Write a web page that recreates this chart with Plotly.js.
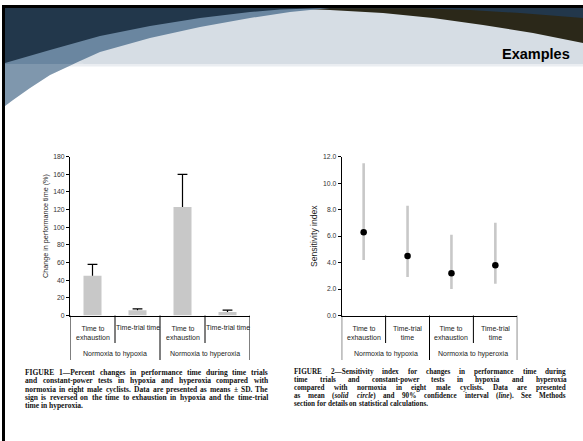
<!DOCTYPE html>
<html>
<head>
<meta charset="utf-8">
<script src="https://cdn.plot.ly/plotly-3.0.1.min.js"></script>
<style>html,body{margin:0;padding:0;background:#fff;}#chart{width:583px;height:441px;}</style>
</head>
<body>
<div id="chart"></div>
<script>
// ---------- data ----------
const categoryIndex = [0, 1, 2, 3];
const fig1Labels = ['Time to<br>exhaustion', 'Time-trial time', 'Time to<br>exhaustion', 'Time-trial time'];
const fig2Labels = ['Time to<br>exhaustion', 'Time-trial<br>time', 'Time to<br>exhaustion', 'Time-trial<br>time'];
const groupLabels = ['Normoxia to hypoxia', 'Normoxia to hyperoxia'];
const changeMean = [45, 6, 123, 4];          // % change in performance time
const changeSD = [13, 1.5, 37, 2];
const sensMean = [6.3, 4.5, 3.2, 3.8];       // sensitivity index
const sensLower = [4.2, 2.9, 2.0, 2.4];      // 90% CI
const sensUpper = [11.5, 8.3, 6.1, 7.0];
const fig1Title = 'Change in performance time (%)';
const fig2Title = 'Sensitivity index';
const caption1 = [
  'FIGURE 1—Percent changes in performance time during time trials',
  'and constant-power tests in hypoxia and hyperoxia compared with',
  'normoxia in eight male cyclists. Data are presented as means ± SD. The',
  'sign is reversed on the time to exhaustion in hypoxia and the time-trial',
  'time in hyperoxia.'
];
const caption2 = [
  'FIGURE 2—Sensitivity index for changes in performance time during',
  'time trials and constant-power tests in hypoxia and hyperoxia',
  'compared with normoxia in eight male cyclists. Data are presented',
  'as mean (<i>solid</i> <i>circle</i>) and 90% confidence interval (<i>line</i>). See Methods',
  'section for details on statistical calculations.'
];
const headerTitle = 'Examples';

// ---------- layout helpers ----------
const W = 583, H = 441;
const px = x => x / W;
const py = y => 1 - y / H;
function path(pts) {
  return 'M' + pts.map(p => px(p[0]) + ',' + py(p[1])).join('L') + 'Z';
}
function poly(pts, color, opacity) {
  return {type: 'path', xref: 'paper', yref: 'paper', path: path(pts),
          fillcolor: color, opacity: opacity == null ? 1 : opacity, line: {width: 0}, layer: 'above'};
}
const sans = 'Liberation Sans, Arial, sans-serif';
const serif = 'Liberation Serif, Times New Roman, serif';

const shapes = [];
const annotations = [];

// header decoration
shapes.push(poly([[5,8],[583,8],[583,64],[5,64]], '#d6dde4'));
shapes.push(poly([[5,64],[583,64],[583,66.5],[5,66.5]], '#eaedf1'));
shapes.push(poly([[260,8],[583,8],[583,43],[533,33],[483,25],[433,18],[383,13],[330,10],[290,8.5]], '#2b2819'));
shapes.push(poly([[5,8],[330,8],[290,12],[250,18],[200,27],[150,38],[100,52],[80,61],[50,75],[30,88],[13,100],[5,106]], '#6a86a0'));
shapes.push(poly([[5,64],[84,64],[80,61],[50,75],[30,88],[13,100],[5,106]], '#ffffff', 0.14));
shapes.push(poly([[5,8],[583,8],[583,18],[520,13],[470,10],[420,8.3],[320,8.3],[280,9.5],[250,12],[200,18],[150,26],[100,36],[50,50],[5,63]], '#22374b'));
// slide border
shapes.push(poly([[2,5],[5,5],[5,441],[2,441]], '#000000'));
shapes.push(poly([[2,5],[583,5],[583,8],[2,8]], '#000000'));

annotations.push({xref: 'paper', yref: 'paper', x: px(572), y: py(54), xanchor: 'right', yanchor: 'middle',
  text: '<b>' + headerTitle + '</b>', showarrow: false, font: {family: sans, size: 14.5, color: '#000'}});

// category table under each chart
function table(xref, labels) {
  for (let k = 0; k <= 4; k++) {
    const outer = (k % 2 === 0);
    shapes.push({type: 'line', xref: xref, yref: 'paper', x0: k - 0.5, x1: k - 0.5,
      y0: py(315.5), y1: py(outer ? 360 : 343), line: {color: '#000', width: 1}, layer: 'above'});
  }
  labels.forEach((lab, i) => {
    const two = lab.indexOf('<br>') >= 0;
    annotations.push({xref: xref, yref: 'paper', x: categoryIndex[i], y: py(two ? 333 : 327.5),
      xanchor: 'center', yanchor: 'middle', text: lab, showarrow: false,
      font: {family: sans, size: 7, color: '#222'}});
  });
  groupLabels.forEach((g, j) => {
    annotations.push({xref: xref, yref: 'paper', x: 0.5 + 2 * j, y: py(354), xanchor: 'center', yanchor: 'middle',
      text: g, showarrow: false, font: {family: sans, size: 7, color: '#222'}});
  });
}
table('x', fig1Labels);
table('x2', fig2Labels);

annotations.push({xref: 'paper', yref: 'paper', x: px(45), y: py(226), textangle: -90, xanchor: 'center', yanchor: 'middle',
  text: fig1Title, showarrow: false, font: {family: sans, size: 7.2, color: '#222'}});
annotations.push({xref: 'paper', yref: 'paper', x: px(314), y: py(236), textangle: -90, xanchor: 'center', yanchor: 'middle',
  text: fig2Title, showarrow: false, font: {family: sans, size: 8.6, color: '#222'}});

// justified captions
const cv = document.createElement('canvas').getContext('2d');
function measure(s, size) {
  cv.font = 'bold ' + size + 'px "Liberation Serif", serif';
  return cv.measureText(s.replace(/<[^>]+>/g, '')).width;
}
function caption(lines, x0, x1, yFirst, spacing) {
  const width = x1 - x0;
  let size = 100;
  lines.slice(0, -1).forEach(l => { size = Math.min(size, 100 * width / measure(l, 100)); });
  size = Math.min(size * 0.995, spacing / 1.11);
  lines.forEach((line, i) => {
    const words = line.split(' ');
    const ws = words.map(w => measure(w, size));
    const sum = ws.reduce((a, b) => a + b, 0);
    const last = (i === lines.length - 1);
    const gap = last ? measure(' ', size) : (width - sum) / (words.length - 1);
    let x = x0;
    words.forEach((w, j) => {
      annotations.push({xref: 'paper', yref: 'paper', x: px(x - 1), y: py(yFirst + i * spacing),
        xanchor: 'left', yanchor: 'middle', text: '<b>' + w + '</b>', showarrow: false,
        font: {family: serif, size: size, color: '#111'}});
      x += ws[j] + gap;
    });
  });
}
caption(caption1, 24, 267, 372.3, 8.35);
caption(caption2, 293, 565, 372.3, 7.95);

// ---------- traces ----------
const traces = [
  {type: 'bar', x: categoryIndex, y: changeMean, width: 0.4, xaxis: 'x', yaxis: 'y',
   marker: {color: '#c8c8c8', line: {width: 0}},
   error_y: {type: 'data', symmetric: false, array: changeSD, arrayminus: changeSD.map(() => 0),
             color: '#000', thickness: 1.2, width: 0}, hoverinfo: 'none'},
  {type: 'scatter', mode: 'markers', x: categoryIndex, y: changeMean.map((m, i) => m + changeSD[i]),
   xaxis: 'x', yaxis: 'y', marker: {symbol: 'line-ew', size: 7, line: {color: '#000', width: 1.2}}, hoverinfo: 'none'},
  {type: 'scatter', mode: 'markers', x: categoryIndex, y: sensMean, xaxis: 'x2', yaxis: 'y2',
   marker: {color: '#000', size: 6.5},
   error_y: {type: 'data', symmetric: false, array: sensUpper.map((u, i) => u - sensMean[i]),
             arrayminus: sensLower.map((l, i) => sensMean[i] - l), color: '#c8c8c8', thickness: 2.6, width: 0},
   hoverinfo: 'none'}
];

const yDom = [py(315.5), py(156.7)];
const xCommon = {range: [-0.5, 3.5], showticklabels: false, ticks: '', showgrid: false, zeroline: false,
  showline: true, linecolor: '#000', linewidth: 1, fixedrange: true};
const yCommon = {showgrid: false, zeroline: false, showline: true, linecolor: '#000', linewidth: 1,
  ticks: 'outside', ticklen: 3, tickwidth: 1, tickcolor: '#000', domain: yDom, fixedrange: true,
  tickfont: {family: sans, size: 6.8, color: '#333'}};

const layout = {
  width: W, height: H, margin: {l: 0, r: 0, t: 0, b: 0},
  paper_bgcolor: '#fff', plot_bgcolor: 'rgba(0,0,0,0)', showlegend: false,
  xaxis: Object.assign({}, xCommon, {domain: [px(70), px(250)], anchor: 'y'}),
  yaxis: Object.assign({}, yCommon, {range: [0, 180], dtick: 20, anchor: 'x'}),
  xaxis2: Object.assign({}, xCommon, {domain: [px(341.7), px(517.3)], anchor: 'y2'}),
  yaxis2: Object.assign({}, yCommon, {range: [0, 12], dtick: 2, tickformat: '.1f', anchor: 'x2'}),
  shapes: shapes, annotations: annotations
};
Plotly.newPlot('chart', traces, layout, {staticPlot: true, displayModeBar: false});
</script>
</body>
</html>
